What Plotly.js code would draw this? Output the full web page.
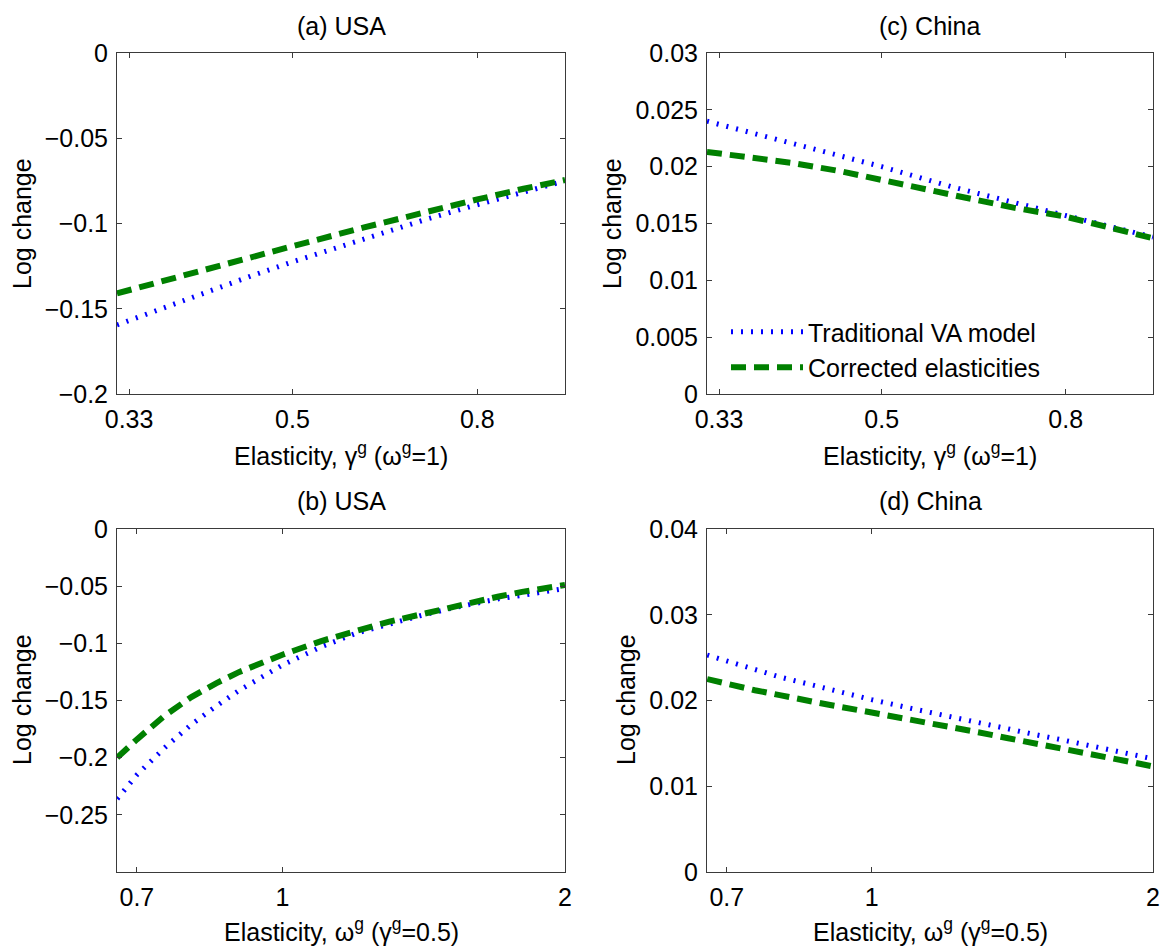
<!DOCTYPE html>
<html><head><meta charset="utf-8">
<script src="https://cdn.plot.ly/plotly-3.0.1.min.js"></script>
<style>html,body{margin:0;padding:0;background:#fff}</style>
</head><body><div id="chart" style="width:1162px;height:948px"></div>
<script>
// ---- data ----
const xGamma = [0.32, 0.35, 0.4, 0.45, 0.5, 0.6, 0.7, 0.8, 0.9, 1.0];
const usaGammaTraditional = [-0.1595, -0.1518, -0.1405, -0.1308, -0.1225, -0.1088, -0.0978, -0.0890, -0.0815, -0.0750];
const usaGammaCorrected   = [-0.141, -0.1353, -0.1270, -0.1197, -0.1133, -0.1023, -0.0933, -0.0859, -0.0796, -0.0745];
const chinaGammaTraditional = [0.0240, 0.0232, 0.0220, 0.0209, 0.0200, 0.0182, 0.0168, 0.0157, 0.0147, 0.0138];
const chinaGammaCorrected   = [0.0213, 0.0209, 0.0203, 0.0196, 0.0188, 0.0175, 0.0164, 0.0156, 0.0146, 0.0137];

const xOmega = [0.667, 0.7, 0.75, 0.8, 0.85, 0.9, 1.0, 1.1, 1.2, 1.3, 1.4, 1.5, 1.6, 1.7, 1.8, 1.9, 2.0];
const usaOmegaTraditional = [-0.236, -0.215, -0.191, -0.171, -0.155, -0.141, -0.119, -0.103, -0.091, -0.083, -0.076, -0.070, -0.065, -0.061, -0.058, -0.055, -0.052];
const usaOmegaCorrected   = [-0.200, -0.184, -0.163, -0.147, -0.135, -0.125, -0.110, -0.098, -0.089, -0.081, -0.075, -0.069, -0.064, -0.059, -0.055, -0.052, -0.049];
const chinaOmegaTraditional = [0.0253, 0.0246, 0.0236, 0.0227, 0.0220, 0.0213, 0.0201, 0.0191, 0.0182, 0.0174, 0.0167, 0.0160, 0.0154, 0.0148, 0.0142, 0.0137, 0.0132];
const chinaOmegaCorrected   = [0.0225, 0.0219, 0.0212, 0.0206, 0.0200, 0.0195, 0.0186, 0.0178, 0.0170, 0.0163, 0.0156, 0.0150, 0.0144, 0.0138, 0.0133, 0.0128, 0.0123];

const seriesNames = ['Traditional VA model', 'Corrected elasticities'];
const panelTitles = ['(a) USA', '(b) USA', '(c) China', '(d) China'];
const xTitleGamma = 'Elasticity, γ<sup>g</sup> (ω<sup>g</sup>=1)';
const xTitleOmega = 'Elasticity, ω<sup>g</sup> (γ<sup>g</sup>=0.5)';
const yTitle = 'Log change';
const gammaTickVals = [0.33, 0.5, 0.8];
const gammaTickText = ['0.33', '0.5', '0.8'];
const omegaTickVals = [0.7, 1, 2];
const omegaTickText = ['0.7', '1', '2'];

// ---- styling ----
const W = 1162, H = 948;
const FONT = 'Liberation Sans, Arial, Helvetica, sans-serif';
const FS = 25;
const blueStyle = {color: '#0000ff', width: 5, dash: '2px,8px'};
const greenStyle = {color: '#008000', width: 6, dash: '15px,8px'};

const colL = [117/W, 565/W], colR = [707/W, 1153/W];
const rowT = [1 - 394/H, 1 - 53/H], rowB = [1 - 872/H, 1 - 529/H];

function trace(x, y, name, style, xa, ya, show) {
  return {x: x, y: y, name: name, type: 'scatter', mode: 'lines', line: style,
          xaxis: xa, yaxis: ya, showlegend: show, hoverinfo: 'skip'};
}
const data = [
  trace(xGamma, usaGammaTraditional, seriesNames[0], blueStyle, 'x', 'y', false),
  trace(xGamma, usaGammaCorrected, seriesNames[1], greenStyle, 'x', 'y', false),
  trace(xOmega, usaOmegaTraditional, seriesNames[0], blueStyle, 'x2', 'y2', false),
  trace(xOmega, usaOmegaCorrected, seriesNames[1], greenStyle, 'x2', 'y2', false),
  trace(xGamma, chinaGammaTraditional, seriesNames[0], blueStyle, 'x3', 'y3', true),
  trace(xGamma, chinaGammaCorrected, seriesNames[1], greenStyle, 'x3', 'y3', true),
  trace(xOmega, chinaOmegaTraditional, seriesNames[0], blueStyle, 'x4', 'y4', false),
  trace(xOmega, chinaOmegaCorrected, seriesNames[1], greenStyle, 'x4', 'y4', false)
];

const common = {showline: true, linecolor: '#3a3a3a', linewidth: 1, mirror: 'ticks',
  ticks: 'inside', ticklen: 5, tickcolor: '#3a3a3a', showgrid: false, zeroline: false,
  tickfont: {family: FONT, size: FS, color: '#000'}, fixedrange: true};

function xax(domain, anchor, isGamma) {
  return Object.assign({}, common, {domain: domain, anchor: anchor, type: 'log',
    range: isGamma ? [Math.log10(0.32), 0] : [Math.log10(2/3), Math.log10(2)],
    tickmode: 'array', tickvals: isGamma ? gammaTickVals : omegaTickVals,
    ticktext: isGamma ? gammaTickText : omegaTickText, ticklabelstandoff: 3});
}
function yax(domain, anchor, range, dtick) {
  return Object.assign({}, common, {domain: domain, anchor: anchor, range: range,
    tick0: 0, dtick: dtick, ticklabelstandoff: 3});
}

function ann(text, xpx, ypx, angle) {
  return {text: text, x: xpx / W, y: 1 - ypx / H, xref: 'paper', yref: 'paper',
    xanchor: 'center', yanchor: 'middle', showarrow: false, textangle: angle || 0,
    font: {family: FONT, size: FS, color: '#000'}};
}

const layout = {
  width: W, height: H, margin: {l: 0, r: 0, t: 0, b: 0},
  paper_bgcolor: '#fff', plot_bgcolor: '#fff',
  font: {family: FONT, size: FS, color: '#000'},
  xaxis: xax(colL, 'y', true), yaxis: yax(rowT, 'x', [-0.2, 0], 0.05),
  xaxis2: xax(colL, 'y2', false), yaxis2: Object.assign(yax(rowB, 'x2', [-0.3, 0], 0.05), {tickmode: 'array', tickvals: [-0.25, -0.2, -0.15, -0.1, -0.05, 0]}),
  xaxis3: xax(colR, 'y3', true), yaxis3: yax(rowT, 'x3', [0, 0.03], 0.005),
  xaxis4: xax(colR, 'y4', false), yaxis4: yax(rowB, 'x4', [0, 0.04], 0.01),
  showlegend: true,
  legend: {x: 726 / W, y: 1 - 309 / H, xanchor: 'left', yanchor: 'top',
    bgcolor: 'rgba(0,0,0,0)', borderwidth: 0, itemwidth: 72,
    font: {family: FONT, size: FS, color: '#000'}, tracegroupgap: 0},
  annotations: [
    ann(panelTitles[0], 341, 26), ann(panelTitles[1], 341, 501),
    ann(panelTitles[2], 930, 26), ann(panelTitles[3], 930, 501),
    ann(xTitleGamma, 341, 454), ann(xTitleOmega, 341, 930),
    ann(xTitleGamma, 930, 454), ann(xTitleOmega, 930, 930),
    ann(yTitle, 22, 224, -90), ann(yTitle, 22, 700, -90),
    ann(yTitle, 612, 224, -90), ann(yTitle, 626, 700, -90)
  ]
};

Plotly.newPlot('chart', data, layout, {staticPlot: true, displayModeBar: false});
</script></body></html>
